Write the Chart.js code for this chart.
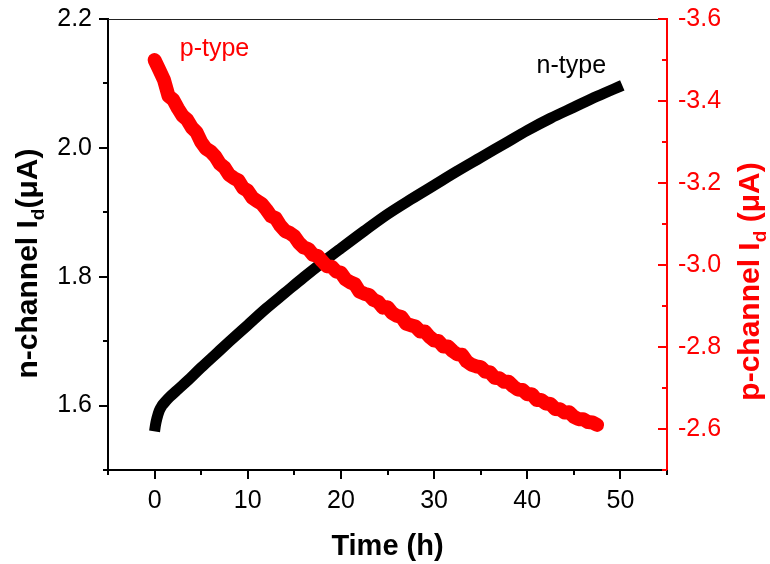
<!DOCTYPE html>
<html>
<head>
<meta charset="utf-8">
<script src="https://cdn.jsdelivr.net/npm/chart.js@4.4.0/dist/chart.umd.min.js"></script>
<style>
html,body{margin:0;padding:0;background:#ffffff;}
#wrap{width:770px;height:564px;position:relative;}
</style>
</head>
<body>
<div id="wrap"><canvas id="c" width="770" height="564"></canvas></div>
<script>
// ---------------- data ----------------
const nTime = [0, 0.1, 0.25, 0.5, 0.8, 1.2, 1.6, 2.5, 3.5, 5, 6.5, 8, 10, 12, 14, 16, 18, 20, 22.5, 25, 27.5, 30, 32.5, 35, 37.5, 40, 42.5, 45, 47.5, 50.2];
const nCurrent = [1.560, 1.570, 1.580, 1.592, 1.600, 1.607, 1.613, 1.625, 1.638, 1.659, 1.679, 1.699, 1.725, 1.751, 1.775, 1.799, 1.822, 1.844, 1.871, 1.897, 1.920, 1.942, 1.964, 1.985, 2.006, 2.027, 2.046, 2.063, 2.080, 2.097];

const pTime = [0, 0.5, 1, 1.5, 2, 2.5, 3, 3.5, 4, 4.5, 5, 5.5, 6, 6.5, 7, 7.5, 8, 8.5, 9, 9.5,
  10, 10.5, 11, 11.5, 12, 12.5, 13, 13.5, 14, 14.5, 15, 15.5, 16, 16.5, 17, 17.5, 18, 18.5, 19, 19.5,
  20, 20.5, 21, 21.5, 22, 22.5, 23, 23.5, 24, 24.5, 25, 25.5, 26, 26.5, 27, 27.5, 28, 28.5, 29, 29.5,
  30, 30.5, 31, 31.5, 32, 32.5, 33, 33.5, 34, 34.5, 35, 35.5, 36, 36.5, 37, 37.5, 38, 38.5, 39, 39.5,
  40, 40.5, 41, 41.5, 42, 42.5, 43, 43.5, 44, 44.5, 45, 45.5, 46, 46.5, 47, 47.5];
const pCurrent = [-3.500, -3.476, -3.452, -3.412, -3.403, -3.382, -3.364, -3.354, -3.335, -3.324,
  -3.300, -3.284, -3.277, -3.265, -3.247, -3.238, -3.220, -3.212, -3.206, -3.188,
  -3.181, -3.164, -3.156, -3.149, -3.135, -3.119, -3.114, -3.096, -3.083, -3.078,
  -3.070, -3.054, -3.043, -3.039, -3.025, -3.022, -3.009, -2.997, -2.996, -2.984,
  -2.981, -2.965, -2.958, -2.953, -2.935, -2.930, -2.927, -2.915, -2.910, -2.896,
  -2.897, -2.883, -2.876, -2.873, -2.857, -2.853, -2.850, -2.838, -2.838, -2.825,
  -2.816, -2.814, -2.801, -2.801, -2.790, -2.782, -2.781, -2.765, -2.757, -2.753,
  -2.751, -2.740, -2.738, -2.725, -2.724, -2.715, -2.715, -2.704, -2.696, -2.695,
  -2.685, -2.685, -2.671, -2.671, -2.662, -2.661, -2.649, -2.648, -2.640, -2.641,
  -2.630, -2.624, -2.624, -2.617, -2.616, -2.610];

const xRange = [-5, 55];
const xStep = 5;
const nRange = [1.5, 2.2];
const pRange = [-3.6, -2.5];
const yStep = 0.1;

const seriesLabels = ['p-type', 'n-type'];
const xTitle = 'Time (h)';

// ---------------- styling ----------------
const FONT = "'Liberation Sans', Arial, Helvetica, sans-serif";
const RED = '#ff0000';
const BLACK = '#000000';

function toPoints(xs, ys) { return xs.map((x, i) => ({ x: x, y: ys[i] })); }

function isMajorY(v) { return Math.abs(Math.round(v * 10)) % 2 === 0; }
function isMajorX(v) { return Math.round(v) % 10 === 0; }

function drawRich(ctx, parts, x, y, align) {
  let total = 0;
  parts.forEach(p => { ctx.font = 'bold ' + p.size + 'px ' + FONT; total += ctx.measureText(p.t).width; });
  let cx = align === 'center' ? x - total / 2 : x;
  ctx.textAlign = 'left';
  ctx.textBaseline = 'alphabetic';
  parts.forEach(p => {
    ctx.font = 'bold ' + p.size + 'px ' + FONT;
    ctx.fillText(p.t, cx, y + (p.dy || 0));
    cx += ctx.measureText(p.t).width;
  });
}

function noPad(s) { s.paddingTop = 0; s.paddingBottom = 0; s.paddingLeft = 0; s.paddingRight = 0; }

const decor = {
  id: 'decor',
  afterDraw(chart) {
    const ctx = chart.ctx;
    const a = chart.chartArea;
    const sx = chart.scales.x, sl = chart.scales.yN, sr = chart.scales.yP;
    ctx.save();

    // top frame line
    ctx.strokeStyle = '#222';
    ctx.lineWidth = 1.2;
    ctx.beginPath();
    ctx.moveTo(a.left, a.top + 0.5);
    ctx.lineTo(a.right, a.top + 0.5);
    ctx.stroke();

    // tick marks (major long / minor short) from the scales' own ticks
    ctx.lineWidth = 2;
    ctx.strokeStyle = BLACK;
    sx.ticks.forEach(t => {
      const px = Math.round(sx.getPixelForValue(t.value));
      const len = isMajorX(t.value) ? 9 : 5;
      ctx.beginPath(); ctx.moveTo(px, a.bottom); ctx.lineTo(px, a.bottom + len); ctx.stroke();
    });
    sl.ticks.forEach(t => {
      const py = Math.round(sl.getPixelForValue(t.value));
      const len = isMajorY(t.value) ? 9 : 5;
      ctx.beginPath(); ctx.moveTo(a.left, py); ctx.lineTo(a.left - len, py); ctx.stroke();
    });
    ctx.strokeStyle = RED;
    sr.ticks.forEach(t => {
      const py = Math.round(sr.getPixelForValue(t.value));
      const len = isMajorY(t.value) ? 9 : 5;
      ctx.beginPath(); ctx.moveTo(a.right, py); ctx.lineTo(a.right - len, py); ctx.stroke();
    });

    // axis titles
    const midY = (a.top + a.bottom) / 2;
    ctx.fillStyle = BLACK;
    drawRich(ctx, [{ t: xTitle, size: 29 }], (a.left + a.right) / 2, a.bottom + 85, 'center');

    ctx.save();
    ctx.translate(a.left - 71, midY + 19);
    ctx.rotate(-Math.PI / 2);
    ctx.fillStyle = BLACK;
    drawRich(ctx, [{ t: 'n-channel I', size: 30 }, { t: 'd', size: 19, dy: 7 }, { t: '(\u03bcA)', size: 30 }], 0, 0, 'center');
    ctx.restore();

    ctx.save();
    ctx.translate(a.right + 92, midY + 37);
    ctx.rotate(-Math.PI / 2);
    ctx.fillStyle = RED;
    drawRich(ctx, [{ t: 'p-channel I', size: 30 }, { t: 'd', size: 19, dy: 7 }, { t: ' (\u03bcA)', size: 30 }], 0, 0, 'center');
    ctx.restore();

    // in-plot series labels, anchored with scale values
    ctx.font = '25px ' + FONT;
    ctx.textAlign = 'left';
    ctx.textBaseline = 'alphabetic';
    ctx.fillStyle = RED;
    ctx.fillText(seriesLabels[0], sx.getPixelForValue(2.7), sr.getPixelForValue(-3.51));
    ctx.fillStyle = BLACK;
    ctx.fillText(seriesLabels[1], sx.getPixelForValue(41), sl.getPixelForValue(2.116));

    ctx.restore();
  }
};

Chart.defaults.font.family = FONT;

new Chart(document.getElementById('c'), {
  type: 'scatter',
  data: {
    datasets: [
      {
        label: seriesLabels[0],
        data: toPoints(pTime, pCurrent),
        yAxisID: 'yP',
        order: 0,
        showLine: true,
        borderColor: RED,
        backgroundColor: RED,
        borderWidth: 14,
        borderCapStyle: 'round',
        borderJoinStyle: 'round',
        pointRadius: 0,
        tension: 0
      },
      {
        label: seriesLabels[1],
        data: toPoints(nTime, nCurrent),
        yAxisID: 'yN',
        order: 1,
        showLine: true,
        borderColor: BLACK,
        backgroundColor: BLACK,
        borderWidth: 11,
        borderCapStyle: 'butt',
        borderJoinStyle: 'round',
        pointRadius: 0,
        cubicInterpolationMode: 'monotone'
      }
    ]
  },
  options: {
    responsive: false,
    animation: false,
    devicePixelRatio: 1,
    layout: { padding: { top: 19, left: 0, right: 0, bottom: 0 } },
    plugins: { legend: { display: false }, tooltip: { enabled: false } },
    scales: {
      x: {
        type: 'linear',
        position: 'bottom',
        min: xRange[0], max: xRange[1],
        grid: { display: false, drawTicks: false },
        border: { display: true, color: BLACK, width: 2 },
        ticks: {
          stepSize: xStep, autoSkip: false, maxRotation: 0, padding: 16,
          color: BLACK, font: { size: 25, family: FONT },
          callback: v => isMajorX(v) ? String(Math.round(v)) : ''
        },
        afterFit: s => { s.height = 94; noPad(s); }
      },
      yN: {
        type: 'linear',
        position: 'left',
        min: nRange[0], max: nRange[1],
        grid: { display: false, drawTicks: false },
        border: { display: true, color: BLACK, width: 2 },
        ticks: {
          stepSize: yStep, autoSkip: false, padding: 16,
          color: BLACK, font: { size: 25, family: FONT },
          callback: v => isMajorY(v) ? v.toFixed(1) : ''
        },
        afterFit: s => { s.width = 108; noPad(s); }
      },
      yP: {
        type: 'linear',
        position: 'right',
        reverse: true,
        min: pRange[0], max: pRange[1],
        grid: { display: false, drawTicks: false },
        border: { display: true, color: RED, width: 2 },
        ticks: {
          stepSize: yStep, autoSkip: false, padding: 11,
          color: RED, font: { size: 25, family: FONT },
          callback: v => isMajorY(v) ? v.toFixed(1) : ''
        },
        afterFit: s => { s.width = 103; noPad(s); }
      }
    }
  },
  plugins: [decor]
});
</script>
</body>
</html>
